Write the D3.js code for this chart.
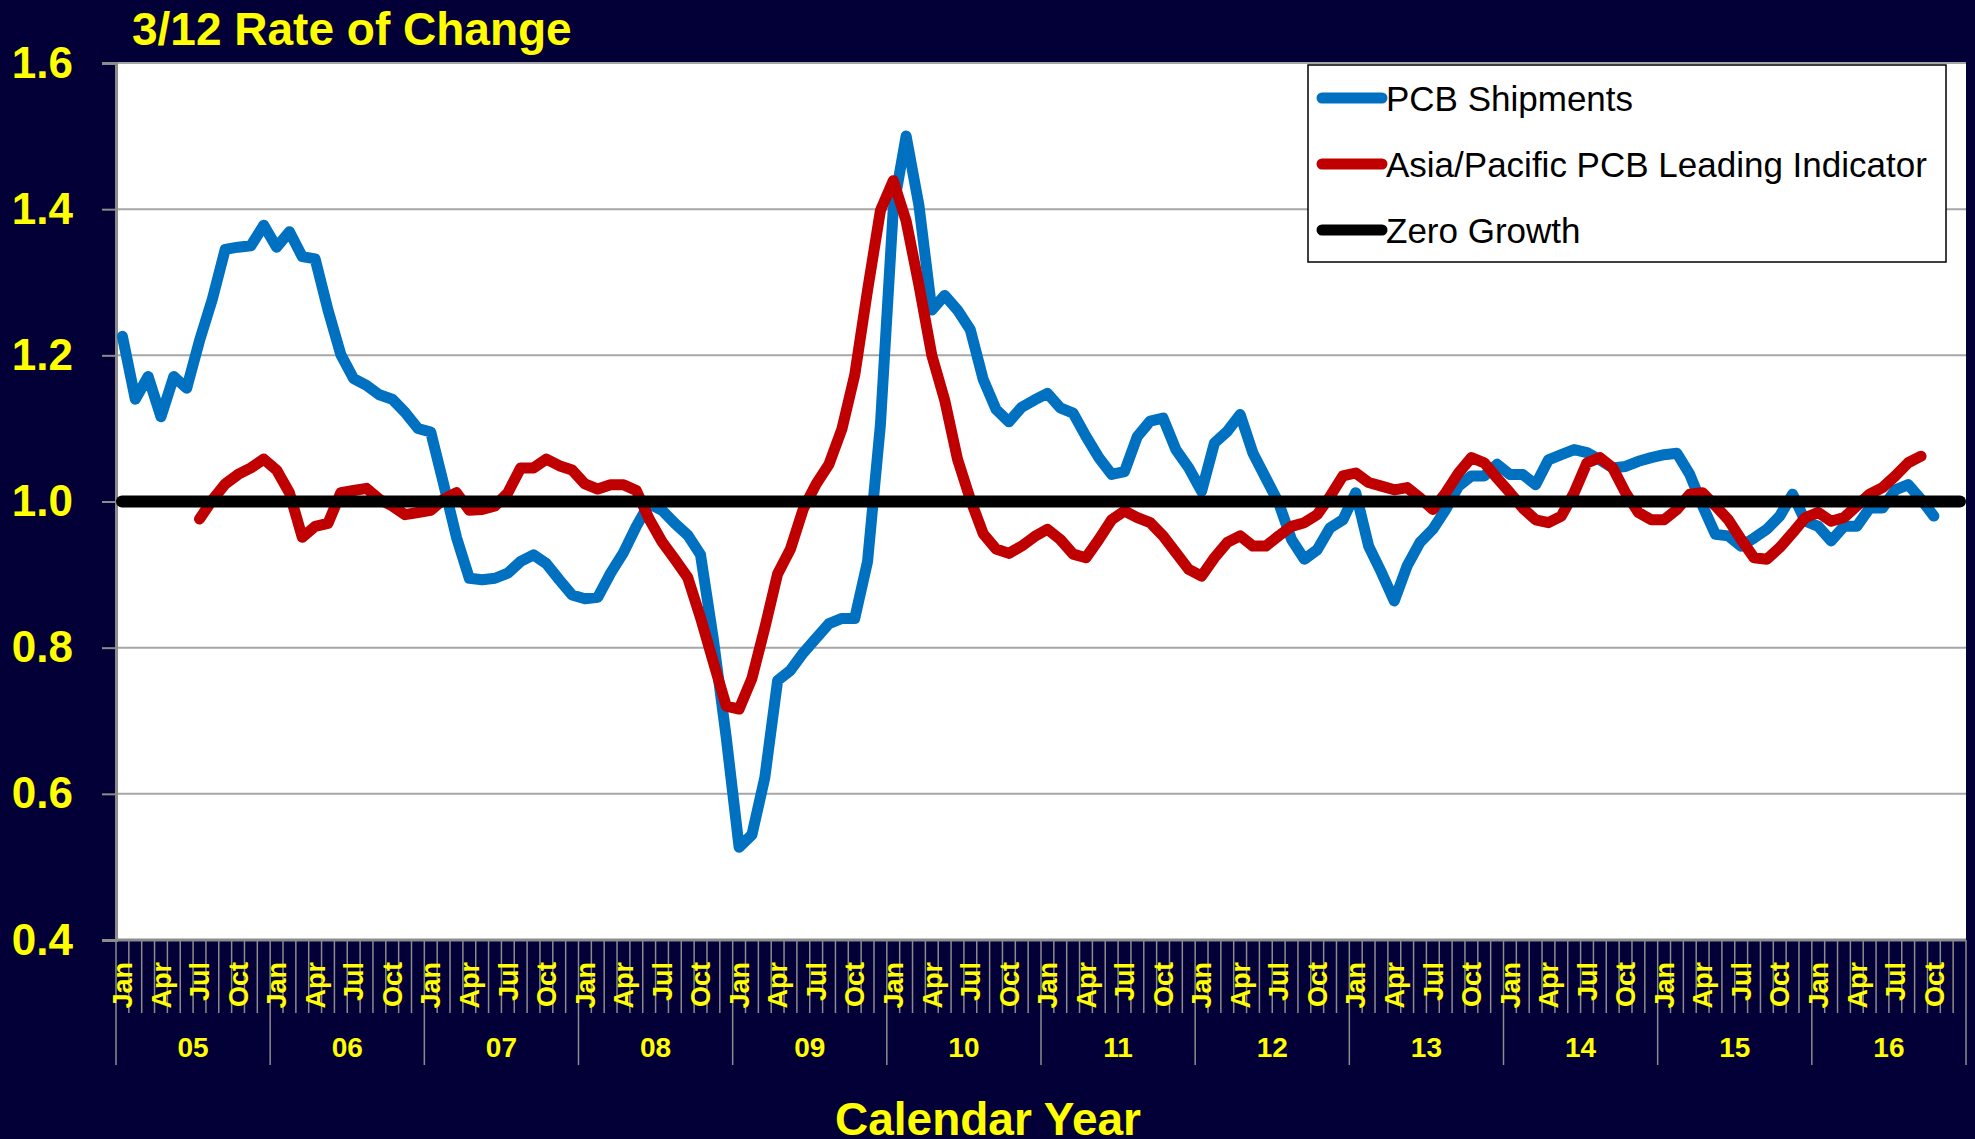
<!DOCTYPE html>
<html>
<head>
<meta charset="utf-8">
<script src="https://cdn.jsdelivr.net/npm/d3@7"></script>
<style>
  html, body { margin: 0; padding: 0; background: #030038; }
  svg { display: block; font-family: "Liberation Sans", Arial, sans-serif; }
</style>
</head>
<body>
<svg id="chart" width="1975" height="1139"></svg>
<script>
// chart data
const years = ["05", "06", "07", "08", "09", "10", "11", "12", "13", "14", "15", "16"];
const months = ["Jan", "Feb", "Mar", "Apr", "May", "Jun", "Jul", "Aug", "Sep", "Oct", "Nov", "Dec"];
const monthLabels = ["Jan", "Apr", "Jul", "Oct"];
const yTicks = [0.4, 0.6, 0.8, 1.0, 1.2, 1.4, 1.6];

// PCB Shipments, from Jan 05
const shipmentsStart = 0;
const shipments = [
  1.226, 1.14, 1.171, 1.116, 1.171, 1.155, 1.22, 1.277, 1.345, 1.348, 1.35, 1.378,
  1.348, 1.369, 1.335, 1.332, 1.262, 1.201, 1.168, 1.159, 1.146, 1.14, 1.122, 1.10,
  1.095, 1.024, 0.951, 0.895, 0.893, 0.895, 0.902, 0.918, 0.927, 0.915, 0.893, 0.872,
  0.867, 0.869, 0.902, 0.93, 0.966, 0.997, 0.988, 0.97, 0.954, 0.927, 0.811, 0.677,
  0.527, 0.544, 0.622, 0.755, 0.769, 0.793, 0.813, 0.833, 0.840, 0.840, 0.918, 1.105,
  1.40, 1.50, 1.405, 1.262, 1.282, 1.262, 1.235, 1.167, 1.126, 1.109, 1.129, 1.139,
  1.148, 1.128, 1.121, 1.089, 1.06, 1.037, 1.041, 1.089, 1.11, 1.114, 1.071, 1.046,
  1.014, 1.08, 1.096, 1.119, 1.066, 1.032, 0.998, 0.948, 0.921, 0.934, 0.964, 0.975,
  1.012, 0.939, 0.903, 0.864, 0.912, 0.944, 0.962, 0.989, 1.021, 1.035, 1.035, 1.051,
  1.037, 1.037, 1.023, 1.057, 1.064, 1.071, 1.067, 1.057, 1.046, 1.048, 1.055, 1.06,
  1.064, 1.066, 1.037, 0.994, 0.955, 0.953, 0.939, 0.950, 0.962, 0.980, 1.010, 0.973,
  0.966, 0.946, 0.966, 0.966, 0.991, 0.991, 1.016, 1.023, 1.003, 0.980
];

// Asia/Pacific PCB Leading Indicator, from Jul 05
const leadingStart = 6;
const leading = [
  0.976, 1.002, 1.024, 1.037, 1.046, 1.058,
  1.043, 1.012, 0.951, 0.966, 0.970, 1.012, 1.015, 1.018, 1.003, 0.994, 0.982, 0.985,
  0.988, 1.003, 1.012, 0.988, 0.989, 0.994, 1.012, 1.046, 1.046, 1.058, 1.049, 1.043,
  1.024, 1.017, 1.023, 1.023, 1.015, 0.976, 0.945, 0.921, 0.896, 0.841, 0.78, 0.72,
  0.716, 0.758, 0.827, 0.901, 0.935, 0.99, 1.024, 1.051, 1.099, 1.173, 1.289, 1.398,
  1.439, 1.384, 1.296, 1.20, 1.139, 1.058, 1.003, 0.956, 0.935, 0.929, 0.939, 0.952,
  0.962, 0.948, 0.928, 0.923, 0.948, 0.975, 0.987, 0.978, 0.971, 0.953, 0.93, 0.907,
  0.898, 0.923, 0.944, 0.953, 0.939, 0.939, 0.953, 0.966, 0.971, 0.982, 1.007, 1.035,
  1.039, 1.026, 1.021, 1.016, 1.019, 1.005, 0.989, 1.012, 1.039, 1.06, 1.053, 1.032,
  1.012, 0.991, 0.975, 0.971, 0.980, 1.012, 1.053, 1.06, 1.046, 1.012, 0.985, 0.975,
  0.975, 0.989, 1.010, 1.012, 0.994, 0.975, 0.948, 0.923, 0.921, 0.937, 0.957, 0.978,
  0.985, 0.973, 0.978, 0.994, 1.010, 1.019, 1.035, 1.053, 1.062
];

const zeroGrowth = 1.0;

const series = [
  { name: "PCB Shipments", color: "#0070c0", start: shipmentsStart, values: shipments },
  { name: "Asia/Pacific PCB Leading Indicator", color: "#c00000", start: leadingStart, values: leading },
  { name: "Zero Growth", color: "#000000" }
];

const svg = d3.select("#chart");
const plot = { left: 116, right: 1966, top: 63, bottom: 940 };
const yellow = "#ffff00";
const gridGray = "#a6a6a6";
const axisGray = "#8c8c8c";

// one category per month
const categories = [];
years.forEach(yr => months.forEach(m => categories.push(yr + "-" + m)));

const x = d3.scaleBand().domain(categories).range([plot.left, plot.right]).padding(0);
const y = d3.scaleLinear().domain([0.4, 1.6]).range([plot.bottom, plot.top]);
const xc = (i) => x(categories[i]) + x.bandwidth() / 2;

// plot background
svg.append("rect")
  .attr("x", plot.left).attr("y", plot.top)
  .attr("width", plot.right - plot.left).attr("height", plot.bottom - plot.top)
  .attr("fill", "#ffffff");

// gridlines
svg.append("g")
  .selectAll("line")
  .data(yTicks.slice(1))
  .enter().append("line")
  .attr("x1", plot.left).attr("x2", plot.right)
  .attr("y1", d => y(d)).attr("y2", d => y(d))
  .attr("stroke", gridGray).attr("stroke-width", 2);

// y axis
const yAxis = svg.append("g")
  .attr("transform", "translate(" + plot.left + ",0)")
  .call(d3.axisLeft(y).tickValues(yTicks).tickFormat(d3.format(".1f")).tickSize(14).tickPadding(29));
yAxis.select(".domain").attr("stroke", axisGray).attr("stroke-width", 3);
yAxis.selectAll(".tick line").attr("stroke", axisGray).attr("stroke-width", 2);
yAxis.selectAll(".tick text")
  .attr("fill", yellow)
  .attr("font-size", 44)
  .attr("font-weight", "bold")
  .attr("font-family", "'Liberation Sans', Arial, sans-serif");

// x axis base line
svg.append("line")
  .attr("x1", plot.left).attr("x2", plot.right)
  .attr("y1", plot.bottom).attr("y2", plot.bottom)
  .attr("stroke", axisGray).attr("stroke-width", 3);

// month boundary ticks, longer ones between years
const boundaries = d3.range(categories.length + 1);
svg.append("g")
  .selectAll("line")
  .data(boundaries)
  .enter().append("line")
  .attr("x1", i => i < categories.length ? x(categories[i]) : plot.right)
  .attr("x2", i => i < categories.length ? x(categories[i]) : plot.right)
  .attr("y1", plot.bottom)
  .attr("y2", i => (i % 12 === 0) ? 1065 : 1013)
  .attr("stroke", axisGray).attr("stroke-width", 1.5);

// month labels (every quarter)
const xAxis = svg.append("g")
  .attr("transform", "translate(0," + plot.bottom + ")")
  .call(d3.axisBottom(x)
    .tickValues(categories.filter(c => monthLabels.includes(c.split("-")[1])))
    .tickFormat(c => c.split("-")[1])
    .tickSize(0));
xAxis.select(".domain").remove();
xAxis.selectAll(".tick text")
  .attr("fill", yellow)
  .attr("font-size", 27)
  .attr("font-weight", "bold")
  .attr("font-family", "'Liberation Sans', Arial, sans-serif")
  .attr("text-anchor", "end")
  .attr("transform", "rotate(-90)")
  .attr("x", -22)
  .attr("y", 0)
  .attr("dy", "0.36em");

// year labels
svg.append("g")
  .selectAll("text")
  .data(years)
  .enter().append("text")
  .attr("x", (d, i) => (x(categories[i * 12]) + (i === years.length - 1 ? plot.right : x(categories[(i + 1) * 12]))) / 2)
  .attr("y", 1047)
  .attr("dy", "0.36em")
  .attr("text-anchor", "middle")
  .attr("fill", yellow)
  .attr("font-size", 28)
  .attr("font-weight", "bold")
  .text(d => d);

// axis title and chart title
svg.append("text")
  .attr("x", 988).attr("y", 1135)
  .attr("text-anchor", "middle")
  .attr("fill", yellow)
  .attr("font-size", 46)
  .attr("font-weight", "bold")
  .text("Calendar Year");

svg.append("text")
  .attr("x", 132).attr("y", 45)
  .attr("fill", yellow)
  .attr("font-size", 46)
  .attr("font-weight", "bold")
  .text("3/12 Rate of Change");

// lines
const line = d3.line()
  .x(d => xc(d[0]))
  .y(d => y(d[1]));

series.slice(0, 2).forEach(s => {
  svg.append("path")
    .datum(s.values.map((v, k) => [s.start + k, v]))
    .attr("d", line)
    .attr("fill", "none")
    .attr("stroke", s.color)
    .attr("stroke-width", 11)
    .attr("stroke-linejoin", "round")
    .attr("stroke-linecap", "round");
});

svg.append("line")
  .attr("x1", plot.left + 6).attr("x2", plot.right - 6)
  .attr("y1", y(zeroGrowth)).attr("y2", y(zeroGrowth))
  .attr("stroke", "#000000")
  .attr("stroke-width", 12)
  .attr("stroke-linecap", "round");

// legend
const legend = svg.append("g");
legend.append("rect")
  .attr("x", 1308).attr("y", 65)
  .attr("width", 638).attr("height", 197)
  .attr("fill", "#ffffff")
  .attr("stroke", "#000000")
  .attr("stroke-width", 1.5);

const rows = legend.selectAll("g.row")
  .data(series)
  .enter().append("g")
  .attr("class", "row")
  .attr("transform", (d, i) => "translate(0," + (98 + i * 66) + ")");
rows.append("line")
  .attr("x1", 1322).attr("x2", 1382)
  .attr("y1", 0).attr("y2", 0)
  .attr("stroke", d => d.color)
  .attr("stroke-width", 11)
  .attr("stroke-linecap", "round");
rows.append("text")
  .attr("x", 1386).attr("y", 0)
  .attr("dy", "0.36em")
  .attr("fill", "#000000")
  .attr("font-size", 35)
  .text(d => d.name);
</script>
</body>
</html>
